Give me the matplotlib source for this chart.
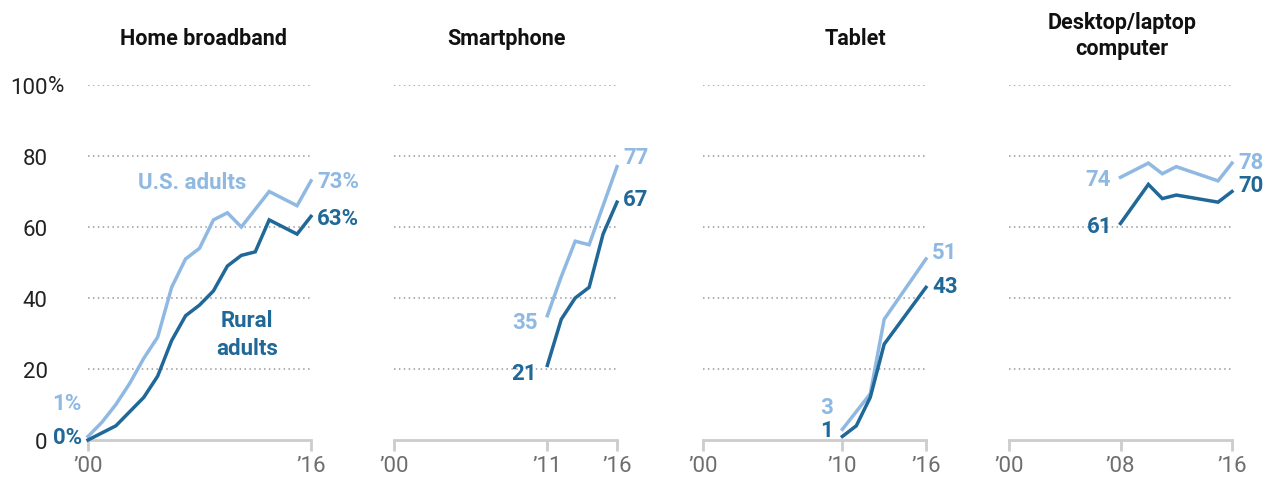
import matplotlib
matplotlib.use('Agg')
import matplotlib.pyplot as plt

plt.rcParams['font.family'] = ['Roboto', 'DejaVu Sans']

# data (percent of adults)
broadband_years = [2000, 2001, 2002, 2003, 2004, 2005, 2006, 2007, 2008,
                   2009, 2010, 2011, 2012, 2013, 2015, 2016]
broadband_us = [1, 5, 10, 16, 23, 29, 43, 51, 54, 62, 64, 60, 65, 70, 66, 73]
broadband_rural = [0, 2, 4, 8, 12, 18, 28, 35, 38, 42, 49, 52, 53, 62, 58, 63]

smartphone_years = [2011, 2012, 2013, 2014, 2015, 2016]
smartphone_us = [35, 46, 56, 55, 66, 77]
smartphone_rural = [21, 34, 40, 43, 58, 67]

tablet_years = [2010, 2011, 2012, 2013, 2016]
tablet_us = [3, 8, 13, 34, 51]
tablet_rural = [1, 4, 12, 27, 43]

computer_years = [2008, 2010, 2011, 2012, 2015, 2016]
computer_us = [74, 78, 75, 77, 73, 78]
computer_rural = [61, 72, 68, 69, 67, 70]

titles = ['Home broadband', 'Smartphone', 'Tablet', 'Desktop/laptop\ncomputer']
y_ticks = [0, 20, 40, 60, 80, 100]

LIGHT = '#8FB9E2'
DARK = '#1F6898'
GRID = '#9a9a9a'
BASE = '#cccccc'

W, H = 1276, 481
FS = 16


def fx(x):
    return x / W


def fy(y):
    return 1 - y / H


panels = [
    (broadband_years, broadband_us, broadband_rural),
    (smartphone_years, smartphone_us, smartphone_rural),
    (tablet_years, tablet_us, tablet_rural),
    (computer_years, computer_us, computer_rural),
]

# left edge of each panel in pixels, and title centres
panel_left = [88, 394, 703, 1009]
panel_width = 223
title_x = [203, 507, 855, 1122]
title_y = [39, 39, 39, 36]

# label offsets in pixels (dx, dy) for start and end labels
start_off = [((-6, 33), (-6, 3)), ((-10, -6), (-10, -8)),
             ((-9, 22), (-9, 6)), ((-10, -2), (-8, -3))]
end_off = [((6, 0), (6, -2)), ((6, 10), (6, 3)),
           ((6, 7), (6, 1)), ((6, 1), (6, 6))]
start_text = [('1%', '0%'), None, None, None]

fig = plt.figure(figsize=(W / 100, H / 100), dpi=100)

for i, (years, us, rural) in enumerate(panels):
    ax = fig.add_axes([fx(panel_left[i]), fy(441), panel_width / W, 355 / H])
    ax.set_xlim(2000, 2016)
    ax.set_ylim(0, 100)
    for s in ['top', 'right', 'left']:
        ax.spines[s].set_visible(False)
    ax.spines['bottom'].set_color(BASE)
    ax.spines['bottom'].set_linewidth(2)

    for v in y_ticks[1:]:
        ax.axhline(v, color=GRID, lw=1.1, ls=(0, (1, 2.2)), zorder=1)

    xt = [2000, years[0], 2016] if years[0] != 2000 else [2000, 2016]
    ax.set_xticks(xt)
    ax.set_xticklabels(['\u2019' + str(y)[2:] for y in xt])
    ax.tick_params(axis='x', direction='out', length=8, width=2, color=BASE,
                   labelsize=FS, labelcolor='#6e6e6e', pad=3)

    if i == 0:
        ax.set_yticks(y_ticks)
        ax.set_yticklabels([str(v) for v in y_ticks])
        ax.tick_params(axis='y', length=0, labelsize=FS, labelcolor='#222222', pad=29)
    else:
        ax.set_yticks([])

    ax.plot(years, us, color=LIGHT, lw=2.5, clip_on=False, zorder=3,
            solid_joinstyle='miter')
    ax.plot(years, rural, color=DARK, lw=2.5, clip_on=False, zorder=4,
            solid_joinstyle='miter')

    # start labels
    if start_text[i]:
        s_us, s_ru = start_text[i]
    else:
        s_us, s_ru = str(us[0]), str(rural[0])
    (du, dvu), (dr, dvr) = start_off[i]
    ax.annotate(s_us, (years[0], us[0]), xytext=(du * 0.72, dvu * 0.72),
                textcoords='offset points', ha='right', va='center',
                color=LIGHT, fontsize=FS, fontweight='bold', annotation_clip=False)
    ax.annotate(s_ru, (years[0], rural[0]), xytext=(dr * 0.72, dvr * 0.72),
                textcoords='offset points', ha='right', va='center',
                color=DARK, fontsize=FS, fontweight='bold', annotation_clip=False)

    # end labels
    suffix = '%' if i == 0 else ''
    (du, dvu), (dr, dvr) = end_off[i]
    ax.annotate(str(us[-1]) + suffix, (years[-1], us[-1]), xytext=(du * 0.72, dvu * 0.72),
                textcoords='offset points', ha='left', va='center',
                color=LIGHT, fontsize=FS, fontweight='bold', annotation_clip=False)
    ax.annotate(str(rural[-1]) + suffix, (years[-1], rural[-1]), xytext=(dr * 0.72, dvr * 0.72),
                textcoords='offset points', ha='left', va='center',
                color=DARK, fontsize=FS, fontweight='bold', annotation_clip=False)

    fig.text(fx(title_x[i]), fy(title_y[i]), titles[i], ha='center', va='center',
             fontsize=15.5, fontweight='bold', color='#111111', linespacing=1.2)

# percent sign on the 100 tick
fig.text(fx(48), fy(86), '%', ha='left', va='center', fontsize=FS, color='#222222')

# series labels in the first panel
fig.text(fx(192), fy(183), 'U.S. adults', ha='center', va='center',
         fontsize=FS, fontweight='bold', color=LIGHT)
fig.text(fx(247), fy(335), 'Rural\nadults', ha='center', va='center',
         fontsize=FS, fontweight='bold', color=DARK, linespacing=1.3)

fig.savefig('out.png', dpi=100)
